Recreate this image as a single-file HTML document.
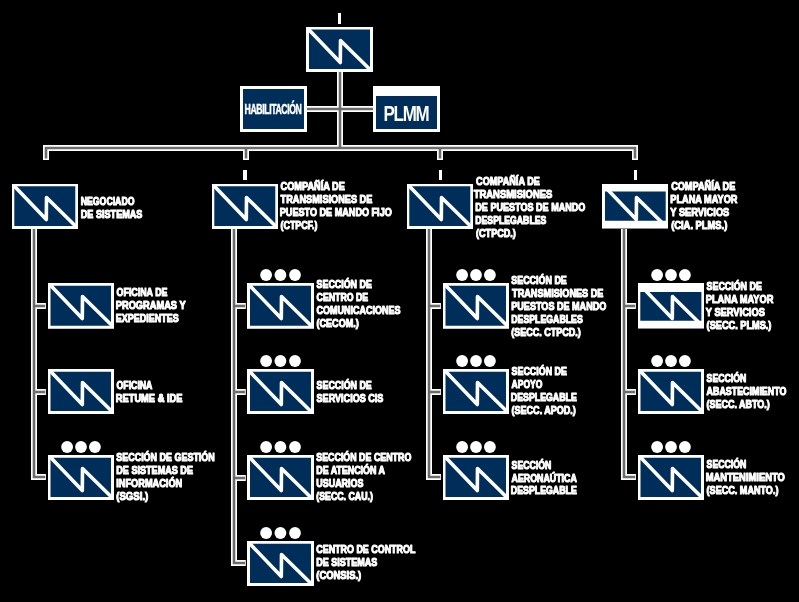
<!DOCTYPE html>
<html><head><meta charset="utf-8"><title>Organigrama</title>
<style>html,body{margin:0;padding:0;background:#000;width:799px;height:602px;overflow:hidden}svg{display:block;will-change:transform}text{font-family:"Liberation Sans",sans-serif}</style>
</head><body>
<svg width="799" height="602" viewBox="0 0 799 602"><defs><filter id="bl" x="-10%" y="-10%" width="120%" height="120%"><feGaussianBlur stdDeviation="0.55"/></filter></defs><rect width="799" height="602" fill="#000"/><rect x="338" y="13" width="3" height="11" fill="#fff"/><rect x="243" y="170" width="4" height="10" fill="#fff"/><rect x="439" y="170" width="3" height="10" fill="#fff"/><rect x="634" y="170" width="3" height="10" fill="#fff"/><g fill="none" stroke="#fff" stroke-width="6" stroke-linejoin="miter" stroke-linecap="butt"><path d="M340,72 V148"/><path d="M306,109 H374"/><path d="M46,160 V148 H635 V160"/><path d="M246,148 V160"/><path d="M440,148 V160"/><path d="M34,229 V477 H45.9"/><path d="M34,306 H45.9"/><path d="M34,392 H45.9"/><path d="M234,229 V563 H245.8"/><path d="M234,306 H245.8"/><path d="M234,392 H245.8"/><path d="M234,478 H245.8"/><path d="M429,229 V477 H440.9"/><path d="M429,306 H440.9"/><path d="M429,392 H440.9"/><path d="M624,229 V477 H635.9"/><path d="M624,306 H635.9"/><path d="M624,392 H635.9"/></g><g fill="none" stroke="#6c6c6c" stroke-width="2.6" stroke-linejoin="miter" filter="url(#bl)"><path d="M340,72 V148"/><path d="M306,109 H374"/><path d="M46,158.5 V148 H635 V158.5"/><path d="M246,148 V158.5"/><path d="M440,148 V158.5"/><path d="M34,229 V477 H45.1"/><path d="M34,306 H45.1"/><path d="M34,392 H45.1"/><path d="M234,229 V563 H245.0"/><path d="M234,306 H245.0"/><path d="M234,392 H245.0"/><path d="M234,478 H245.0"/><path d="M429,229 V477 H440.09999999999997"/><path d="M429,306 H440.09999999999997"/><path d="M429,392 H440.09999999999997"/><path d="M624,229 V477 H635.1"/><path d="M624,306 H635.1"/><path d="M624,392 H635.1"/></g><rect x="306" y="27" width="67" height="45" fill="#002e5b"/><path d="M307.5,28.27 L340.3,62.5 L340.5,40.5 L370.5,70.0" fill="none" stroke="#fff" stroke-width="3.6" stroke-linejoin="round"/><path fill="#fff" fill-rule="evenodd" d="M306,27h67v45h-67zM309,29.5v39.50h61.00v-39.50z"/><rect x="240" y="86" width="67" height="46" fill="#002e5b"/><path fill="#fff" fill-rule="evenodd" d="M240,86h67v46h-67zM243,89v40.00h61.00v-40.00z"/><rect x="373" y="86" width="67" height="46" fill="#002e5b"/><path fill="#fff" fill-rule="evenodd" d="M373,86h67v46h-67zM376,96v33.00h61.00v-33.00z"/><rect x="12" y="184" width="66" height="45" fill="#002e5b"/><path d="M13.5,185.27 L46.3,219.5 L46.5,197.5 L76.5,227.0" fill="none" stroke="#fff" stroke-width="3.6" stroke-linejoin="round"/><path fill="#fff" fill-rule="evenodd" d="M12,184h66v45h-66zM14.3,186.3v39.70h61.00v-39.70z"/><rect x="212" y="184" width="66" height="45" fill="#002e5b"/><path d="M213.5,185.27 L246.3,219.5 L246.5,197.5 L276.5,227.0" fill="none" stroke="#fff" stroke-width="3.6" stroke-linejoin="round"/><path fill="#fff" fill-rule="evenodd" d="M212,184h66v45h-66zM214.3,186.3v39.70h61.00v-39.70z"/><rect x="407" y="184" width="66" height="45" fill="#002e5b"/><path d="M408.5,185.27 L441.3,219.5 L441.5,197.5 L471.5,227.0" fill="none" stroke="#fff" stroke-width="3.6" stroke-linejoin="round"/><path fill="#fff" fill-rule="evenodd" d="M407,184h66v45h-66zM409.3,186.3v39.70h61.00v-39.70z"/><rect x="602" y="184" width="66" height="44.5" fill="#002e5b"/><path d="M603.5,185.27 L636.3,219.5 L636.5,197.5 L666.5,227.0" fill="none" stroke="#fff" stroke-width="3.6" stroke-linejoin="round"/><path fill="#fff" fill-rule="evenodd" d="M602,184h66v44.5h-66zM605,191.5v29.30h60.70v-29.30z"/><rect x="48" y="283" width="66" height="45.7" fill="#002e5b"/><path d="M49.5,284.27 L82.3,318.5 L82.5,296.5 L112.5,326.0" fill="none" stroke="#fff" stroke-width="3.6" stroke-linejoin="round"/><path fill="#fff" fill-rule="evenodd" d="M48,283h66v45.7h-66zM50.5,285.8v40.00h60.50v-40.00z"/><rect x="48" y="369" width="66" height="45" fill="#002e5b"/><path d="M49.5,370.27 L82.3,404.5 L82.5,382.5 L112.5,412.0" fill="none" stroke="#fff" stroke-width="3.6" stroke-linejoin="round"/><path fill="#fff" fill-rule="evenodd" d="M48,369h66v45h-66zM50.5,371.8v39.30h60.50v-39.30z"/><rect x="48" y="455" width="66" height="45" fill="#002e5b"/><path d="M49.5,456.27 L82.3,490.5 L82.5,468.5 L112.5,498.0" fill="none" stroke="#fff" stroke-width="3.6" stroke-linejoin="round"/><path fill="#fff" fill-rule="evenodd" d="M48,455h66v45h-66zM50.5,457.8v39.30h60.50v-39.30z"/><circle cx="67.10" cy="447" r="5.9" fill="#fff"/><circle cx="81.00" cy="447" r="5.9" fill="#fff"/><circle cx="94.90" cy="447" r="5.9" fill="#fff"/><rect x="247" y="283" width="67" height="45.7" fill="#002e5b"/><path d="M248.5,284.27 L281.3,318.5 L281.5,296.5 L311.5,326.0" fill="none" stroke="#fff" stroke-width="3.6" stroke-linejoin="round"/><path fill="#fff" fill-rule="evenodd" d="M247,283h67v45.7h-67zM250,285.8v40.00h61.00v-40.00z"/><circle cx="266.10" cy="275" r="5.9" fill="#fff"/><circle cx="280.40" cy="275" r="5.9" fill="#fff"/><circle cx="295.00" cy="275" r="5.9" fill="#fff"/><rect x="247" y="369" width="67" height="45" fill="#002e5b"/><path d="M248.5,370.27 L281.3,404.5 L281.5,382.5 L311.5,412.0" fill="none" stroke="#fff" stroke-width="3.6" stroke-linejoin="round"/><path fill="#fff" fill-rule="evenodd" d="M247,369h67v45h-67zM250,371.8v39.30h61.00v-39.30z"/><circle cx="266.10" cy="361" r="5.9" fill="#fff"/><circle cx="280.40" cy="361" r="5.9" fill="#fff"/><circle cx="295.00" cy="361" r="5.9" fill="#fff"/><rect x="247" y="455" width="67" height="45" fill="#002e5b"/><path d="M248.5,456.27 L281.3,490.5 L281.5,468.5 L311.5,498.0" fill="none" stroke="#fff" stroke-width="3.6" stroke-linejoin="round"/><path fill="#fff" fill-rule="evenodd" d="M247,455h67v45h-67zM250,457.8v39.30h61.00v-39.30z"/><circle cx="266.10" cy="447" r="5.9" fill="#fff"/><circle cx="280.40" cy="447" r="5.9" fill="#fff"/><circle cx="295.00" cy="447" r="5.9" fill="#fff"/><rect x="247" y="541" width="67" height="45" fill="#002e5b"/><path d="M248.5,542.27 L281.3,576.5 L281.5,554.5 L311.5,584.0" fill="none" stroke="#fff" stroke-width="3.6" stroke-linejoin="round"/><path fill="#fff" fill-rule="evenodd" d="M247,541h67v45h-67zM250,543.8v39.30h61.00v-39.30z"/><circle cx="266.10" cy="533" r="5.9" fill="#fff"/><circle cx="280.40" cy="533" r="5.9" fill="#fff"/><circle cx="295.00" cy="533" r="5.9" fill="#fff"/><rect x="443" y="283" width="66" height="45.7" fill="#002e5b"/><path d="M444.5,284.27 L477.3,318.5 L477.5,296.5 L507.5,326.0" fill="none" stroke="#fff" stroke-width="3.6" stroke-linejoin="round"/><path fill="#fff" fill-rule="evenodd" d="M443,283h66v45.7h-66zM445.5,285.8v40.00h60.50v-40.00z"/><circle cx="462.10" cy="275" r="5.9" fill="#fff"/><circle cx="476.00" cy="275" r="5.9" fill="#fff"/><circle cx="489.90" cy="275" r="5.9" fill="#fff"/><rect x="443" y="369" width="66" height="45" fill="#002e5b"/><path d="M444.5,370.27 L477.3,404.5 L477.5,382.5 L507.5,412.0" fill="none" stroke="#fff" stroke-width="3.6" stroke-linejoin="round"/><path fill="#fff" fill-rule="evenodd" d="M443,369h66v45h-66zM445.5,371.8v39.30h60.50v-39.30z"/><circle cx="462.10" cy="361" r="5.9" fill="#fff"/><circle cx="476.00" cy="361" r="5.9" fill="#fff"/><circle cx="489.90" cy="361" r="5.9" fill="#fff"/><rect x="443" y="455" width="66" height="45" fill="#002e5b"/><path d="M444.5,456.27 L477.3,490.5 L477.5,468.5 L507.5,498.0" fill="none" stroke="#fff" stroke-width="3.6" stroke-linejoin="round"/><path fill="#fff" fill-rule="evenodd" d="M443,455h66v45h-66zM445.5,457.8v39.30h60.50v-39.30z"/><circle cx="462.10" cy="447" r="5.9" fill="#fff"/><circle cx="476.00" cy="447" r="5.9" fill="#fff"/><circle cx="489.90" cy="447" r="5.9" fill="#fff"/><rect x="638" y="283" width="66" height="45.5" fill="#002e5b"/><path d="M639.5,284.27 L672.3,318.5 L672.5,296.5 L702.5,326.0" fill="none" stroke="#fff" stroke-width="3.6" stroke-linejoin="round"/><path fill="#fff" fill-rule="evenodd" d="M638,283h66v45.5h-66zM640.3,292v28.75h61.10v-28.75z"/><circle cx="657.10" cy="275" r="5.9" fill="#fff"/><circle cx="671.00" cy="275" r="5.9" fill="#fff"/><circle cx="684.90" cy="275" r="5.9" fill="#fff"/><rect x="638" y="369" width="66" height="45" fill="#002e5b"/><path d="M639.5,370.27 L672.3,404.5 L672.5,382.5 L702.5,412.0" fill="none" stroke="#fff" stroke-width="3.6" stroke-linejoin="round"/><path fill="#fff" fill-rule="evenodd" d="M638,369h66v45h-66zM640.5,371.8v39.30h60.50v-39.30z"/><circle cx="657.10" cy="361" r="5.9" fill="#fff"/><circle cx="671.00" cy="361" r="5.9" fill="#fff"/><circle cx="684.90" cy="361" r="5.9" fill="#fff"/><rect x="638" y="455" width="66" height="45" fill="#002e5b"/><path d="M639.5,456.27 L672.3,490.5 L672.5,468.5 L702.5,498.0" fill="none" stroke="#fff" stroke-width="3.6" stroke-linejoin="round"/><path fill="#fff" fill-rule="evenodd" d="M638,455h66v45h-66zM640.5,457.8v39.30h60.50v-39.30z"/><circle cx="657.10" cy="447" r="5.9" fill="#fff"/><circle cx="671.00" cy="447" r="5.9" fill="#fff"/><circle cx="684.90" cy="447" r="5.9" fill="#fff"/><g fill="#fff" stroke="#fff" stroke-width="1.1" stroke-linejoin="round" font-family="Liberation Sans, sans-serif" font-weight="bold" font-size="11.3"><text x="80.75" y="205.25" textLength="53.70" lengthAdjust="spacingAndGlyphs">NEGOCIADO</text><text x="80.75" y="218.45" textLength="61.70" lengthAdjust="spacingAndGlyphs">DE SISTEMAS</text><text x="116.59" y="296.35" textLength="50.86" lengthAdjust="spacingAndGlyphs">OFICINA DE</text><text x="115.79" y="309.25" textLength="69.84" lengthAdjust="spacingAndGlyphs">PROGRAMAS Y</text><text x="115.79" y="322.25" textLength="63.00" lengthAdjust="spacingAndGlyphs">EXPEDIENTES</text><text x="116.59" y="389.15" textLength="35.82" lengthAdjust="spacingAndGlyphs">OFICINA</text><text x="115.79" y="402.15" textLength="66.66" lengthAdjust="spacingAndGlyphs">RETUME &amp; IDE</text><text x="116.25" y="460.95" textLength="98.54" lengthAdjust="spacingAndGlyphs">SECCIÓN DE GESTIÓN</text><text x="116.25" y="473.95" textLength="76.70" lengthAdjust="spacingAndGlyphs">DE SISTEMAS DE</text><text x="116.25" y="486.85" textLength="66.00" lengthAdjust="spacingAndGlyphs">INFORMACIÓN</text><text x="116.25" y="499.85" textLength="32.00" lengthAdjust="spacingAndGlyphs">(SGSI.)</text><text x="280.59" y="189.85" textLength="64.24" lengthAdjust="spacingAndGlyphs">COMPAÑÍA DE</text><text x="280.59" y="202.95" textLength="91.78" lengthAdjust="spacingAndGlyphs">TRANSMISIONES DE</text><text x="279.79" y="215.95" textLength="112.00" lengthAdjust="spacingAndGlyphs">PUESTO DE MANDO FIJO</text><text x="280.59" y="228.95" textLength="36.86" lengthAdjust="spacingAndGlyphs">(CTPCF.)</text><text x="316.55" y="288.20" textLength="55.28" lengthAdjust="spacingAndGlyphs">SECCIÓN DE</text><text x="316.55" y="300.70" textLength="51.65" lengthAdjust="spacingAndGlyphs">CENTRO DE</text><text x="316.55" y="313.85" textLength="83.95" lengthAdjust="spacingAndGlyphs">COMUNICACIONES</text><text x="316.55" y="326.95" textLength="42.20" lengthAdjust="spacingAndGlyphs">(CECOM.)</text><text x="316.59" y="389.15" textLength="55.20" lengthAdjust="spacingAndGlyphs">SECCIÓN DE</text><text x="316.59" y="401.55" textLength="66.82" lengthAdjust="spacingAndGlyphs">SERVICIOS CIS</text><text x="316.25" y="460.55" textLength="95.08" lengthAdjust="spacingAndGlyphs">SECCIÓN DE CENTRO</text><text x="316.25" y="473.95" textLength="68.70" lengthAdjust="spacingAndGlyphs">DE ATENCIÓN A</text><text x="316.25" y="486.85" textLength="47.20" lengthAdjust="spacingAndGlyphs">USUARIOS</text><text x="316.25" y="499.85" textLength="56.66" lengthAdjust="spacingAndGlyphs">(SECC. CAU.)</text><text x="316.25" y="553.15" textLength="99.16" lengthAdjust="spacingAndGlyphs">CENTRO DE CONTROL</text><text x="316.25" y="566.15" textLength="61.12" lengthAdjust="spacingAndGlyphs">DE SISTEMAS</text><text x="316.25" y="579.35" textLength="45.00" lengthAdjust="spacingAndGlyphs">(CONSIS.)</text><text x="476.09" y="184.85" textLength="63.74" lengthAdjust="spacingAndGlyphs">COMPAÑÍA DE</text><text x="473.69" y="197.95" textLength="78.68" lengthAdjust="spacingAndGlyphs">TRANSMISIONES</text><text x="475.29" y="210.95" textLength="110.12" lengthAdjust="spacingAndGlyphs">DE PUESTOS DE MANDO</text><text x="475.29" y="223.95" textLength="71.04" lengthAdjust="spacingAndGlyphs">DESPLEGABLES</text><text x="476.09" y="236.95" textLength="39.66" lengthAdjust="spacingAndGlyphs">(CTPCD.)</text><text x="511.25" y="283.95" textLength="55.58" lengthAdjust="spacingAndGlyphs">SECCIÓN DE</text><text x="512.05" y="296.95" textLength="91.40" lengthAdjust="spacingAndGlyphs">TRANSMISIONES DE</text><text x="511.25" y="309.85" textLength="95.08" lengthAdjust="spacingAndGlyphs">PUESTOS DE MANDO</text><text x="511.25" y="322.85" textLength="71.54" lengthAdjust="spacingAndGlyphs">DESPLEGABLES</text><text x="511.25" y="335.75" textLength="69.50" lengthAdjust="spacingAndGlyphs">(SECC. CTPCD.)</text><text x="511.59" y="374.95" textLength="55.28" lengthAdjust="spacingAndGlyphs">SECCIÓN DE</text><text x="511.59" y="387.95" textLength="30.82" lengthAdjust="spacingAndGlyphs">APOYO</text><text x="510.79" y="401.05" textLength="66.04" lengthAdjust="spacingAndGlyphs">DESPLEGABLE</text><text x="511.59" y="414.15" textLength="64.28" lengthAdjust="spacingAndGlyphs">(SECC. APOD.)</text><text x="511.59" y="469.05" textLength="39.62" lengthAdjust="spacingAndGlyphs">SECCIÓN</text><text x="511.59" y="481.55" textLength="65.24" lengthAdjust="spacingAndGlyphs">AERONAÚTICA</text><text x="510.79" y="494.35" textLength="66.04" lengthAdjust="spacingAndGlyphs">DESPLEGABLE</text><text x="671.13" y="190.15" textLength="64.16" lengthAdjust="spacingAndGlyphs">COMPAÑÍA DE</text><text x="670.33" y="202.95" textLength="67.08" lengthAdjust="spacingAndGlyphs">PLANA MAYOR</text><text x="670.33" y="216.05" textLength="58.96" lengthAdjust="spacingAndGlyphs">Y SERVICIOS</text><text x="671.13" y="229.15" textLength="56.20" lengthAdjust="spacingAndGlyphs">(CIA. PLMS.)</text><text x="706.59" y="290.25" textLength="55.24" lengthAdjust="spacingAndGlyphs">SECCIÓN DE</text><text x="705.79" y="303.15" textLength="67.62" lengthAdjust="spacingAndGlyphs">PLANA MAYOR</text><text x="705.79" y="316.15" textLength="59.08" lengthAdjust="spacingAndGlyphs">Y SERVICIOS</text><text x="706.59" y="329.05" textLength="64.82" lengthAdjust="spacingAndGlyphs">(SECC. PLMS.)</text><text x="706.59" y="382.05" textLength="39.62" lengthAdjust="spacingAndGlyphs">SECCIÓN</text><text x="706.59" y="395.15" textLength="79.78" lengthAdjust="spacingAndGlyphs">ABASTECIMIENTO</text><text x="706.59" y="408.25" textLength="63.24" lengthAdjust="spacingAndGlyphs">(SECC. ABTO.)</text><text x="706.59" y="468.25" textLength="39.62" lengthAdjust="spacingAndGlyphs">SECCIÓN</text><text x="705.79" y="481.35" textLength="79.00" lengthAdjust="spacingAndGlyphs">MANTENIMIENTO</text><text x="706.59" y="494.45" textLength="71.86" lengthAdjust="spacingAndGlyphs">(SECC. MANTO.)</text></g><text transform="translate(244.6,113.8) scale(0.62,1)" x="0" y="0" textLength="92.26" lengthAdjust="spacing" fill="#fff" stroke="#fff" stroke-width="0.5" font-family="Liberation Sans, sans-serif" font-weight="bold" font-size="14">HABILITACIÓN</text><text transform="translate(383.4,120.8) scale(0.8,1)" x="0" y="0" textLength="57.87" lengthAdjust="spacing" fill="#fff" font-family="Liberation Sans, sans-serif" font-weight="bold" font-size="21.2">PLMM</text></svg>
</body></html>
